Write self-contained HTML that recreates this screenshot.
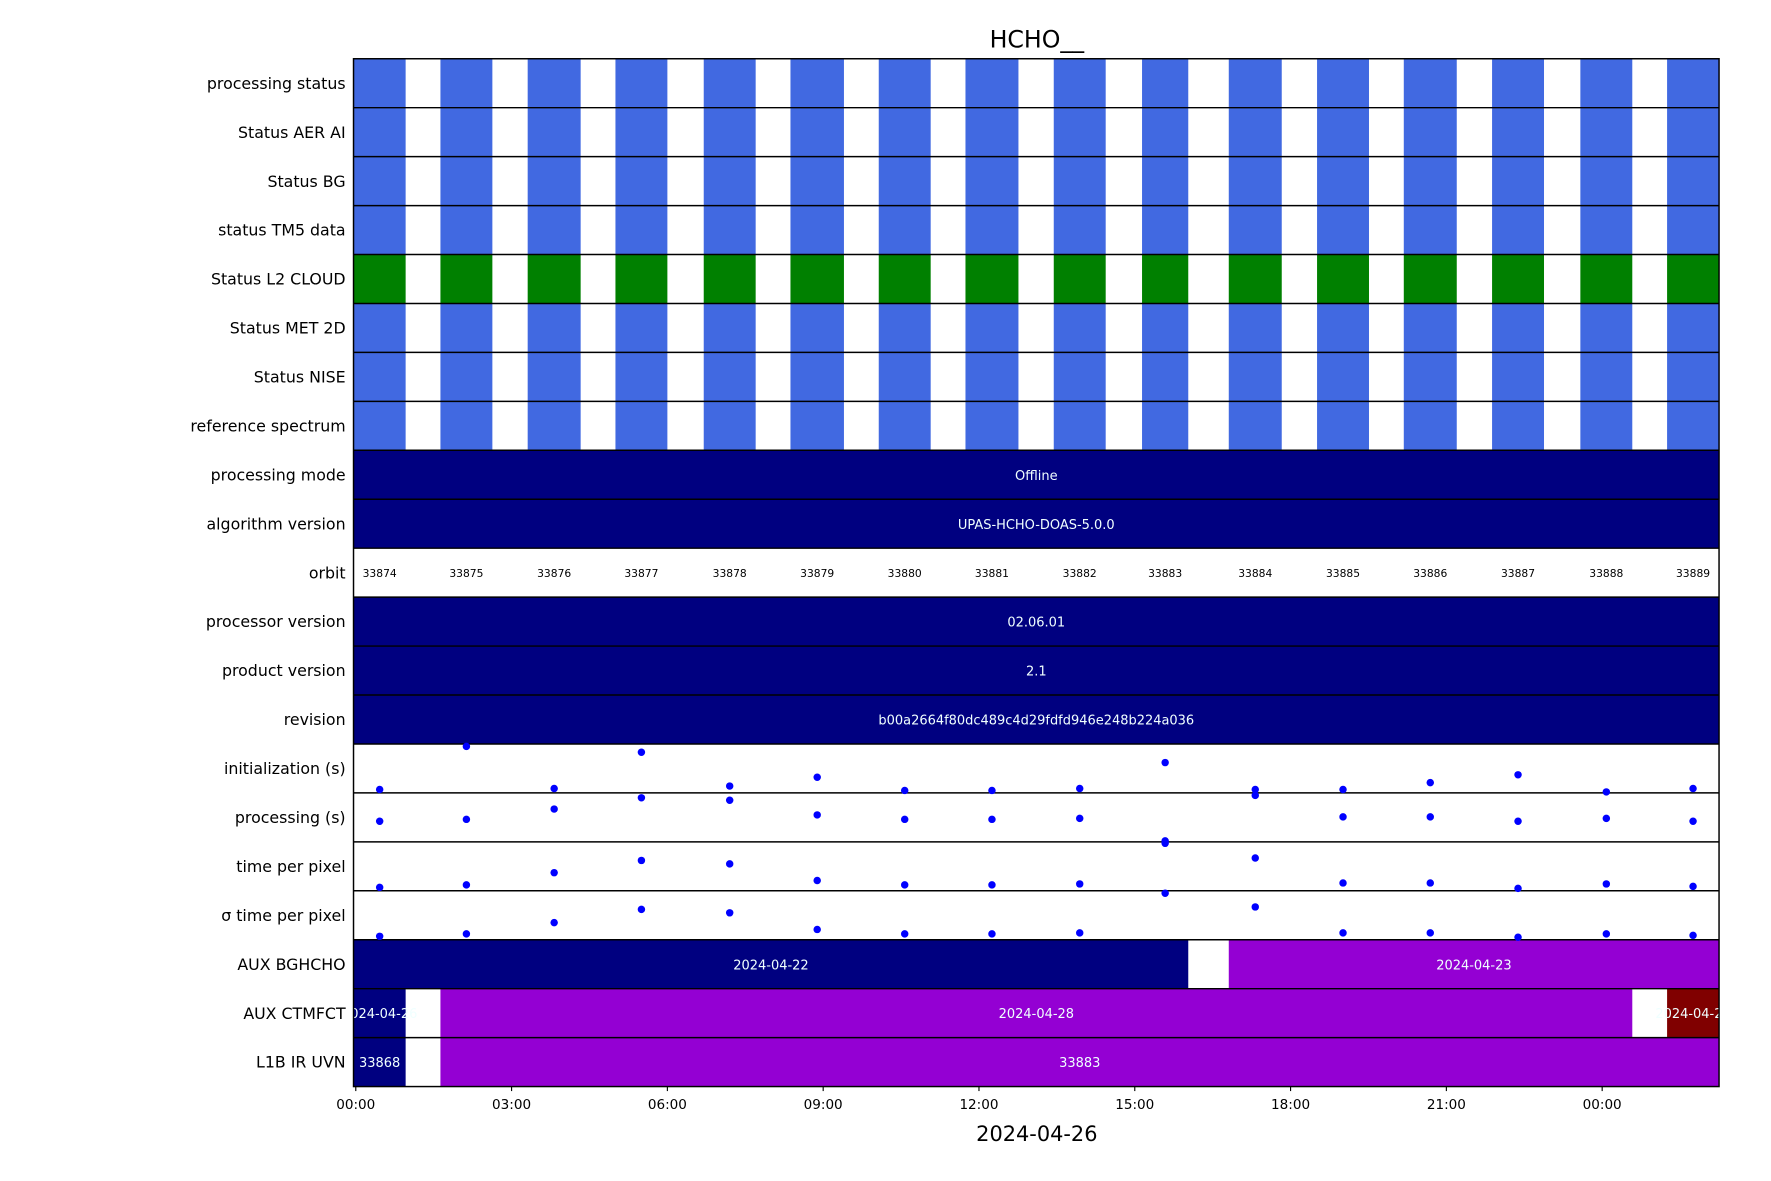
<!DOCTYPE html>
<html><head><meta charset="utf-8"><style>
html,body{margin:0;padding:0;background:#fff}
svg{display:block;font-family:"DejaVu Sans","Liberation Sans",sans-serif}
</style></head><body>
<svg id="chart" width="1771" height="1181" viewBox="0 0 1568 1045.6" xmlns="http://www.w3.org/2000/svg">
<text x="918" y="42" font-size="21" text-anchor="middle">HCHO__</text>
<text x="918" y="1010" font-size="18.5" text-anchor="middle">2024-04-26</text>
</svg>
<script>
const rowLabels=["processing status","Status AER AI","Status BG","status TM5 data","Status L2  CLOUD","Status MET 2D","Status NISE","reference spectrum","processing mode","algorithm version","orbit","processor version","product version","revision","initialization (s)","processing (s)","time per pixel","\u03C3 time per pixel","AUX BGHCHO","AUX CTMFCT","L1B IR UVN"];
const orbits=[33874,33875,33876,33877,33878,33879,33880,33881,33882,33883,33884,33885,33886,33887,33888,33889];
const orbitStart=[-0.04,1.63,3.31,5.00,6.70,8.37,10.07,11.74,13.44,15.14,16.81,18.51,20.18,21.88,23.58,25.25];
const orbitEnd=[0.96,2.63,4.33,6.00,7.70,9.40,11.07,12.76,14.44,16.03,17.83,19.51,21.20,22.88,24.58,26.25];
const initVals=[0.07,0.95,0.09,0.83,0.14,0.32,0.05,0.05,0.09,0.62,0.07,0.07,0.21,0.37,0.02,0.09];
const procVals=[0.42,0.46,0.67,0.90,0.85,0.55,0.46,0.46,0.48,0.02,0.95,0.51,0.51,0.42,0.48,0.42];
const tppVals=[0.07,0.12,0.37,0.62,0.55,0.21,0.12,0.12,0.14,0.97,0.67,0.16,0.16,0.05,0.14,0.09];
const sigmaVals=[0.07,0.12,0.35,0.62,0.55,0.21,0.12,0.12,0.14,0.95,0.67,0.14,0.14,0.05,0.12,0.09];
const tickHours=[0,3,6,9,12,15,18,21,24];
const tickLabels=["00:00","03:00","06:00","09:00","12:00","15:00","18:00","21:00","00:00"];
const auxBgStart=[-0.04,16.81];const auxBgEnd=[16.03,26.25];const auxBgLabels=["2024-04-22","2024-04-23"];const auxBgColors=["#000080","#9400d3"];
const auxCtmStart=[-0.04,1.63,25.25];const auxCtmEnd=[0.96,24.58,26.25];const auxCtmLabels=["2024-04-26","2024-04-28","2024-04-29"];const auxCtmColors=["#000080","#9400d3","#800000"];
const l1bStart=[-0.04,1.63];const l1bEnd=[0.96,26.25];const l1bLabels=["33868","33883"];const l1bColors=["#000080","#9400d3"];

const svg=document.getElementById('chart');const NS="http://www.w3.org/2000/svg";
const L=313,R=1522,T=52,B=962,RH=(B-T)/21;
const xS=h=>315+h*45.98;
const xC=v=>Math.max(L,Math.min(R,xS(v)));
function mk(tag,attrs,parent){const e=document.createElementNS(NS,tag);for(const k in attrs)e.setAttribute(k,attrs[k]);(parent||svg).appendChild(e);return e;}
const defs=mk('defs',{});
const cp=mk('clipPath',{id:'plotclip'},defs);mk('rect',{x:L,y:T,width:R-L,height:B-T},cp);
const plot=mk('g',{'clip-path':'url(#plotclip)'});


const rowTop=i=>T+i*RH;
for(let r=0;r<8;r++){
  const col=r===4?"#008000":"#4169e1";
  for(let i=0;i<orbits.length;i++){
    const x0=xC(orbitStart[i]),x1=xC(orbitEnd[i]);
    const b=mk('rect',{x:x0,y:rowTop(r),width:x1-x0,height:RH,fill:col},plot);
    
    
  }
}
function fullBar(r,label){
  const b=mk('rect',{x:L,y:rowTop(r),width:R-L,height:RH,fill:"#000080"},plot);
  
  
  const t=mk('text',{x:(L+R)/2,y:rowTop(r)+RH/2+4.5,'font-size':11.5,fill:'#f0ffff','text-anchor':'middle'},plot);t.textContent=label;
  
  
}
fullBar(8,"Offline");fullBar(9,"UPAS-HCHO-DOAS-5.0.0");fullBar(11,"02.06.01");fullBar(12,"2.1");fullBar(13,"b00a2664f80dc489c4d29fdfd946e248b224a036");
for(let i=0;i<orbits.length;i++){
  const t=mk('text',{x:(xS(orbitStart[i])+xS(orbitEnd[i]))/2,y:rowTop(10)+RH/2+4,'font-size':9.5,'text-anchor':'middle'},plot);t.textContent=orbits[i];
  
  
}
function segs(r,st,en,labels,cols){
  for(let i=0;i<st.length;i++){
    const x0=xC(st[i]),x1=xC(en[i]);
    const b=mk('rect',{x:x0,y:rowTop(r),width:x1-x0,height:RH,fill:cols[i]},plot);
    
    
    const t=mk('text',{x:(xS(st[i])+xS(en[i]))/2,y:rowTop(r)+RH/2+4.5,'font-size':11.5,fill:'#f0ffff','text-anchor':'middle'});t.textContent=labels[i];
    
    
  }
}
segs(18,auxBgStart,auxBgEnd,auxBgLabels,auxBgColors);
segs(19,auxCtmStart,auxCtmEnd,auxCtmLabels,auxCtmColors);
segs(20,l1bStart,l1bEnd,l1bLabels,l1bColors);
mk('rect',{x:0,y:rowTop(19),width:L,height:RH,fill:'#fff'});
mk('rect',{x:R,y:rowTop(19),width:60,height:RH,fill:'#fff'});
function dots(r,vals,name){
  for(let i=0;i<vals.length;i++){
    if(vals[i]==null)continue;
    const c=mk('circle',{cx:(xS(orbitStart[i])+xS(orbitEnd[i]))/2,cy:rowTop(r+1)-vals[i]*RH,r:3.3,fill:'#0000ff'});
    
    
  }
}
for(let r=1;r<21;r++){const l=mk('line',{x1:L,x2:R,y1:rowTop(r),y2:rowTop(r),stroke:'#000','stroke-width':1.3});}
dots(14,initVals,'initialization');dots(15,procVals,'processing');dots(16,tppVals,'time-per-pixel');dots(17,sigmaVals,'sigma-time-per-pixel');
const fr=mk('rect',{x:L,y:T,width:R-L,height:B-T,fill:'none',stroke:'#000','stroke-width':1.3});


for(let r=0;r<21;r++){
  const t=mk('text',{x:306,y:rowTop(r)+RH/2+5,'font-size':14,'text-anchor':'end'});t.textContent=rowLabels[r];
  
  
}
for(let i=0;i<tickHours.length;i++){
  const x=xS(tickHours[i]);
  const l=mk('line',{x1:x,x2:x,y1:B,y2:B+4,stroke:'#000','stroke-width':1});
  
  
  const t=mk('text',{x:x,y:B+20,'font-size':12,'text-anchor':'middle'});t.textContent=tickLabels[i];
  
  
}
</script>
</body></html>
